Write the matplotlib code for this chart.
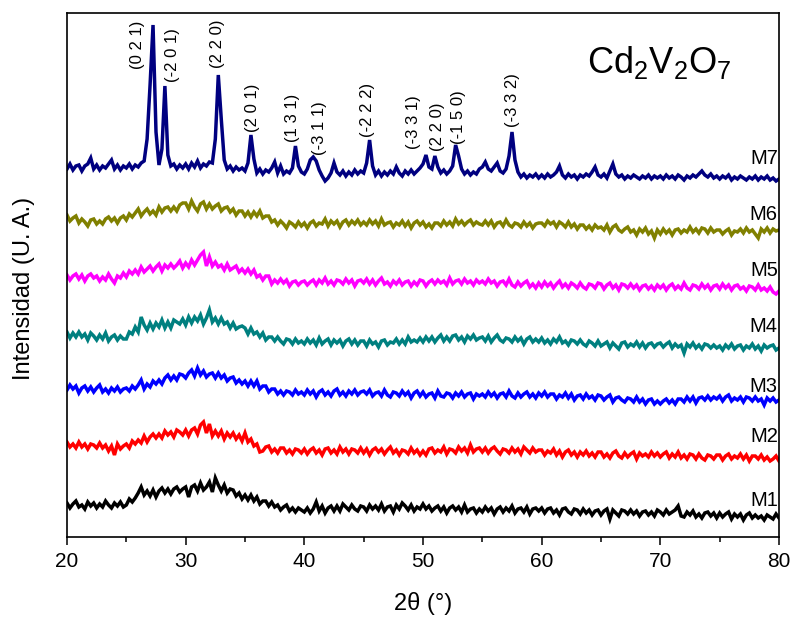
import numpy as np
import matplotlib
matplotlib.use("Agg")
import matplotlib.pyplot as plt

plt.rcParams['font.family'] = ['Liberation Sans', 'DejaVu Sans']
plt.rcParams['mathtext.fontset'] = 'custom'
plt.rcParams['mathtext.rm'] = 'Liberation Sans'
plt.rcParams['mathtext.it'] = 'Liberation Sans:italic'

# 2-theta sampling grid (degrees), 0.25 deg steps
two_theta = np.linspace(20, 80, 241)

# Intensities (arbitrary units, vertically offset stacks as in the figure)
M1 = [34,29,33,36,30,32,28,35,31,34,29,33,30,36,32,29,34,31,35,30,
      32,38,35,39,44,50,42,46,41,47,40,46,49,44,48,43,48,50,45,48,
      50,40,50,52,46,54,47,50,55,45,59,52,46,52,44,48,47,41,44,38,
      42,37,42,36,40,33,36,36,31,35,30,32,27,30,32,26,29,25,29,27,
      25,29,24,28,35,26,31,24,29,31,26,31,26,33,30,27,32,28,26,31,
      30,26,32,28,31,27,33,26,30,31,25,32,28,34,31,27,32,26,30,28,
      33,28,31,26,29,31,26,30,24,29,31,27,30,25,32,25,28,29,24,28,
      25,30,26,29,23,28,30,25,29,26,31,24,28,29,25,30,23,28,29,26,
      29,24,28,29,24,27,22,28,29,25,23,28,27,23,28,24,27,22,26,27,
      22,26,28,18,27,24,21,27,26,23,27,23,26,21,25,26,22,25,21,27,
      25,22,27,23,25,27,31,21,20,25,22,26,20,23,19,24,25,21,24,19,
      24,20,23,25,18,23,20,23,17,22,24,19,22,19,21,17,22,20,18,23,
      19]

M2 = [95,90,93,89,95,90,93,88,93,92,89,94,89,92,86,91,82,93,88,91,
      93,89,96,93,97,94,101,95,100,103,99,103,99,106,102,105,100,107,105,102,
      107,101,107,109,103,112,115,104,113,101,106,101,106,98,104,100,104,98,102,96,
      104,95,98,91,93,85,86,90,91,85,88,84,89,89,84,87,83,88,87,84,
      88,83,87,89,84,87,82,88,89,84,87,83,90,85,88,83,88,87,84,89,
      84,88,82,87,89,85,88,83,87,90,84,87,82,87,86,83,89,84,87,82,
      86,82,88,89,84,87,85,90,83,88,87,84,90,86,89,84,92,85,88,89,
      85,89,84,88,90,86,83,88,87,84,89,85,88,83,90,87,84,89,85,87,
      87,82,86,84,88,82,86,80,85,87,82,85,80,85,82,86,81,84,80,85,
      85,80,83,79,84,86,81,79,84,80,83,85,78,84,81,83,80,85,81,84,
      80,83,85,79,83,80,85,79,82,78,83,82,78,83,79,77,82,81,78,82,
      82,77,81,83,78,81,79,83,78,82,76,81,81,78,82,77,80,76,78,81,
      76]

M3 = [147,152,148,151,144,149,151,146,150,145,149,152,145,148,144,149,146,150,145,148,
      149,146,151,148,152,157,148,153,150,156,153,157,153,159,162,157,161,157,163,162,
      159,164,167,161,169,162,166,160,163,164,159,164,159,162,156,159,160,154,157,153,
      156,151,156,151,156,148,151,151,145,148,148,143,146,142,146,145,142,147,143,145,
      142,147,143,146,140,145,147,142,145,141,146,148,142,145,141,146,143,147,142,145,
      146,143,147,141,144,145,141,147,142,140,145,144,141,146,142,145,139,144,146,141,
      145,140,143,144,139,146,141,140,144,143,139,144,141,145,140,143,144,138,143,141,
      143,140,145,141,144,139,143,144,140,146,141,139,144,140,143,145,140,143,139,144,
      141,145,140,143,143,138,142,140,144,139,143,137,141,142,138,143,139,141,137,142,
      141,137,140,142,135,139,140,137,135,139,138,135,140,135,138,133,137,138,133,136,
      133,136,138,134,137,133,138,138,135,140,136,140,134,139,140,137,141,137,140,138,
      141,136,140,142,136,139,137,140,135,140,139,136,140,136,138,132,139,136,139,135,
      137]

M4 = [205,199,204,200,205,200,203,197,204,201,197,202,198,204,196,200,202,197,201,198,
      198,205,203,210,205,220,212,207,214,208,214,210,217,209,215,209,217,215,213,218,
      212,220,214,220,216,222,213,219,227,215,219,213,219,213,215,209,214,208,210,211,
      209,203,209,203,205,200,204,197,200,200,196,200,196,193,198,197,193,198,194,196,
      193,198,194,197,192,199,193,196,198,192,197,194,197,191,196,198,193,197,192,196,
      196,191,197,193,195,190,196,197,192,195,194,198,193,197,193,200,195,197,195,199,
      195,200,196,200,195,199,202,196,200,196,201,202,197,200,195,201,198,202,197,199,
      200,196,201,195,199,202,197,195,199,198,195,200,196,199,193,198,200,195,198,195,
      199,194,197,193,198,195,200,194,196,192,197,196,193,197,193,191,196,194,191,196,
      191,193,195,189,194,191,188,194,195,190,193,191,195,190,194,189,193,194,190,193,
      194,190,193,195,189,193,190,192,184,193,190,194,189,192,188,193,192,189,192,189,
      191,187,192,189,193,188,191,192,187,191,189,193,188,191,186,192,189,191,192,187,
      189]

M5 = [262,257,261,263,258,262,256,261,263,259,261,256,260,257,263,258,254,261,259,264,
      260,266,263,267,263,270,265,268,271,266,270,273,266,272,269,273,269,272,276,269,
      274,270,277,272,277,282,285,271,280,271,275,270,272,267,273,267,269,271,265,268,
      264,268,263,267,260,262,257,261,261,253,257,254,258,254,257,251,255,256,252,255,
      256,252,255,257,252,257,254,259,253,256,252,257,256,253,258,254,257,251,256,257,
      254,258,253,257,252,256,259,253,255,251,256,253,257,252,255,256,251,255,252,257,
      256,251,255,257,253,257,254,256,252,259,253,256,257,253,258,254,256,252,257,254,
      256,253,258,254,256,251,255,256,252,258,252,250,255,251,254,256,250,253,249,254,
      250,255,251,254,249,253,256,250,253,249,254,252,249,254,250,248,253,252,249,254,
      253,248,252,254,249,252,247,253,252,249,253,249,252,247,251,252,248,251,247,252,
      249,252,247,251,253,248,251,248,254,249,247,252,251,248,253,249,252,247,251,252,
      248,253,249,252,247,251,252,248,250,246,251,250,247,252,247,249,246,250,245,243,
      246]

M6 = [322,316,319,321,314,318,315,311,317,318,313,316,313,318,320,316,319,314,319,321,
      317,323,320,324,328,321,325,328,323,326,322,330,325,329,330,326,330,326,332,334,
      334,328,336,330,326,333,335,328,333,328,331,333,326,329,330,325,328,322,326,326,
      321,325,320,325,321,326,319,321,321,315,317,312,316,313,309,315,313,310,315,311,
      314,309,314,316,311,314,313,318,311,316,313,316,310,315,317,312,316,313,317,312,
      315,312,317,313,316,311,318,312,314,315,310,314,312,316,311,315,309,314,316,312,
      315,310,313,309,314,314,311,316,312,315,311,318,313,316,312,315,317,312,315,313,
      312,316,312,316,310,314,315,311,317,312,310,314,313,310,315,311,314,309,313,314,
      314,311,316,313,315,310,315,313,310,315,310,313,308,312,312,308,311,307,312,309,
      310,307,312,305,310,312,307,305,308,310,305,307,302,308,305,309,303,306,299,307,
      303,308,304,307,302,307,308,304,307,305,310,305,308,304,309,308,304,309,305,307,
      307,303,306,308,302,306,305,308,304,309,305,307,303,299,308,305,309,304,308,306,
      307]

M7 = [368,373,367,371,372,366,371,373,379,368,372,367,371,369,373,377,368,372,367,371,
      369,373,368,372,370,374,376,398,452,512,405,372,388,451,382,371,373,368,372,369,
      373,368,374,370,376,369,373,371,375,374,398,462,418,377,368,371,366,370,367,369,
      366,374,402,378,364,368,363,367,365,369,375,364,371,363,366,364,369,391,371,365,
      363,368,377,380,376,367,361,356,359,364,374,365,362,366,361,365,362,367,363,366,
      364,374,397,371,362,366,361,365,362,366,363,370,364,361,366,363,367,363,366,369,
      373,382,370,368,381,370,364,367,363,366,371,392,381,368,363,366,362,365,363,368,
      370,375,368,366,370,374,366,364,368,381,405,377,365,360,363,359,362,360,363,359,
      362,359,363,360,362,365,371,362,359,363,360,362,358,362,360,363,361,365,370,362,
      360,363,359,366,373,363,360,362,358,361,359,362,360,358,361,359,362,358,361,359,
      361,358,362,359,361,358,362,360,357,361,359,362,360,363,366,362,360,363,359,361,
      358,361,359,362,357,360,358,361,359,357,360,358,361,357,360,358,361,357,359,356,
      358]

series = [M1, M2, M3, M4, M5, M6, M7]
names = ['M1', 'M2', 'M3', 'M4', 'M5', 'M6', 'M7']
colors = ['#000000', '#FF0000', '#0000FF', '#008080', '#FF00FF', '#808000', '#000080']
name_y = [36, 100, 150, 210, 266, 322, 378]

hkl_labels = ['(0 2 1)', '(-2 0 1)', '(2 2 0)', '(2 0 1)', '(1 3 1)', '(-3 1 1)',
              '(-2 2 2)', '(-3 3 1)', '(2 2 0)', '(-1 5 0)', '(-3 3 2)']
hkl_x = [25.9, 28.85, 32.72, 35.67, 39.04, 41.24, 45.36, 49.24, 51.26, 52.95, 57.58]
hkl_y = [492, 482, 493, 429, 419, 409, 427, 415, 410, 420, 437]

fig = plt.figure(figsize=(7.91, 6.17), dpi=100)
ax = fig.add_axes([67/791, 80/617, 712/791, 524/617])

for y, c in zip(series, colors):
    ax.plot(two_theta, y, color=c, lw=2.5, solid_joinstyle='miter')

for n, yy in zip(names, name_y):
    ax.text(79.9, yy, n, ha='right', va='center', fontsize=14.5)

for lab, xx, yy in zip(hkl_labels, hkl_x, hkl_y):
    ax.text(xx, yy, lab, rotation=90, ha='center', va='center', fontsize=12)

ax.text(69.9, 464, r'$\mathrm{Cd_2V_2O_7}$', ha='center', va='baseline', fontsize=26)

ax.set_xlim(20, 80)
ax.set_ylim(0, 524)
ax.set_xticks([20, 30, 40, 50, 60, 70, 80])
ax.set_xticks([25, 35, 45, 55, 65, 75], minor=True)
ax.set_yticks([])
ax.tick_params(axis='x', which='major', direction='out', length=6, width=1.1,
               labelsize=15, pad=5)
ax.tick_params(axis='x', which='minor', direction='out', length=3.5, width=1.1)
for s in ax.spines.values():
    s.set_linewidth(1.2)

ax.set_xlabel('2θ (°)', fontsize=17)
ax.set_ylabel('Intensidad (U. A.)', fontsize=17)
ax.xaxis.set_label_coords(0.5, -0.105)
ax.yaxis.set_label_coords(-0.045, 0.475)

fig.savefig('out.png', dpi=100)
